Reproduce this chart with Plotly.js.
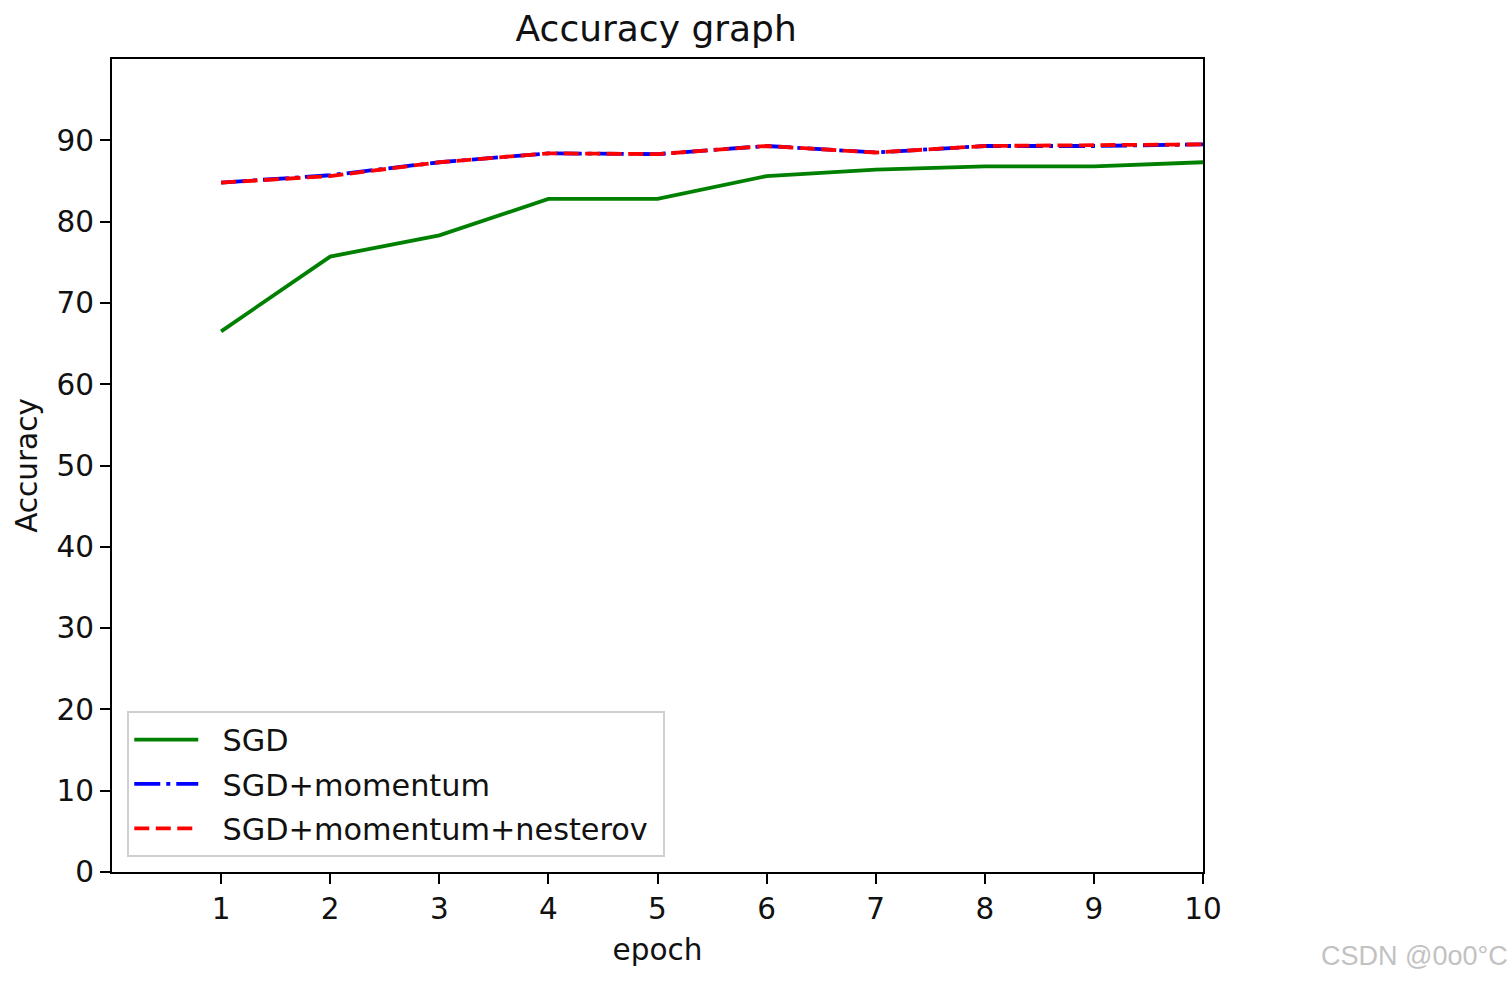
<!DOCTYPE html>
<html>
<head>
<meta charset="utf-8">
<script src="https://cdn.plot.ly/plotly-3.0.1.min.js"></script>
<style>
  html, body { margin: 0; padding: 0; background: #fff; }
  #plot { width: 1512px; height: 982px; }
</style>
</head>
<body>
<div id="plot"></div>
<script>
// values
var epochs = [1, 2, 3, 4, 5, 6, 7, 8, 9, 10];
var acc_sgd = [66.5, 75.7, 78.3, 82.8, 82.8, 85.6, 86.4, 86.8, 86.8, 87.3];
var acc_momentum = [84.8, 85.7, 87.3, 88.4, 88.3, 89.3, 88.5, 89.3, 89.3, 89.5];
var acc_nesterov = [84.8, 85.6, 87.3, 88.4, 88.3, 89.3, 88.5, 89.3, 89.4, 89.5];
var y_ticks = [0, 10, 20, 30, 40, 50, 60, 70, 80, 90];
var series_names = ["SGD", "SGD+momentum", "SGD+momentum+nesterov"];

const font = "DejaVu Sans, sans-serif";
// push legend text away from the line sample, and leave a little room after it
const pad = "\u00a0\u00a0";
const tail = "\u00a0";

const traces = [
    {
        x: epochs, y: acc_sgd, name: pad + series_names[0] + tail, legendgroup: "a",
        mode: "lines",
        line: {color: "green", width: 3.8}
    },
    {
        x: epochs, y: acc_momentum, name: pad + series_names[1] + tail, legendgroup: "b",
        mode: "lines",
        line: {color: "blue", width: 3.8, dash: "26px,6px,4px,6px"}
    },
    {
        x: epochs, y: acc_nesterov, name: pad + series_names[2] + tail, legendgroup: "c",
        mode: "lines",
        line: {color: "red", width: 3.8, dash: "15px,6.5px"}
    }
];

const axisCommon = {
    showgrid: false,
    zeroline: false,
    showline: true,
    linecolor: "black",
    linewidth: 2,
    mirror: true,
    ticks: "outside",
    ticklen: 10,
    tickwidth: 2,
    tickcolor: "black",
    tickfont: {family: font, size: 29.5, color: "#111"}
};

const layout = {
    width: 1512,
    height: 982,
    margin: {l: 112, r: 309, t: 59, b: 110},
    paper_bgcolor: "white",
    plot_bgcolor: "white",
    showlegend: true,
    title: {
        text: "Accuracy graph",
        font: {family: font, size: 36, color: "#111"},
        x: 0.434, xanchor: "center",
        y: 0.971, yanchor: "middle"
    },
    xaxis: Object.assign({}, axisCommon, {
        range: [0, 10],
        tickvals: epochs,
        title: {text: "epoch", font: {family: font, size: 29.5, color: "#111"}, standoff: 14}
    }),
    yaxis: Object.assign({}, axisCommon, {
        range: [0, 100],
        tickvals: y_ticks,
        title: {text: "Accuracy", font: {family: font, size: 29.5, color: "#111"}, standoff: 10}
    }),
    legend: {
        x: 0.014, y: 0.018,
        xanchor: "left", yanchor: "bottom",
        bgcolor: "white",
        bordercolor: "#d0d0d0",
        borderwidth: 2,
        itemwidth: 64,
        tracegroupgap: 2,
        font: {family: font, size: 30.3, color: "#111"}
    },
    annotations: [{
        text: "CSDN @0o0°C",
        xref: "paper", yref: "paper",
        x: 1.281, y: -0.103,
        xanchor: "right", yanchor: "middle",
        showarrow: false,
        font: {family: "Liberation Sans, Arial, sans-serif", size: 27, color: "#c2c2c2"}
    }]
};

Plotly.newPlot("plot", traces, layout, {displayModeBar: false, staticPlot: true});
</script>
</body>
</html>
